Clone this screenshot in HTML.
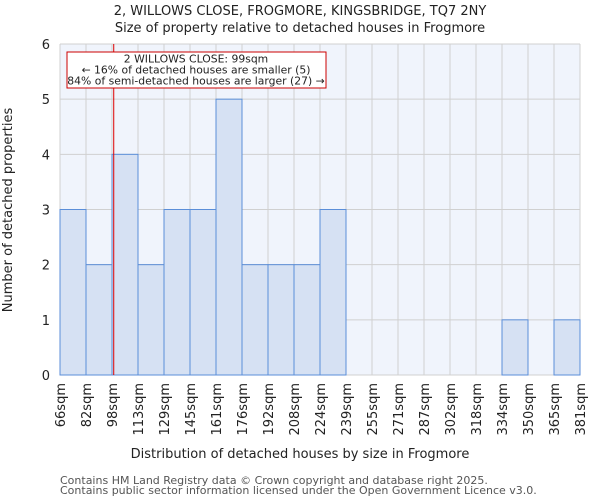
<!DOCTYPE html>
<html><head><meta charset="utf-8"><style>
body{margin:0;background:#fff;}
svg{display:block;font-family:"DejaVu Sans","Liberation Sans",sans-serif;}
</style></head><body>
<svg id="chart" width="600" height="500" viewBox="0 0 600 500">
<text x="300" y="15" font-size="13" text-anchor="middle" fill="#222">2, WILLOWS CLOSE, FROGMORE, KINGSBRIDGE, TQ7 2NY</text>
<text x="300" y="32" font-size="13" text-anchor="middle" fill="#222">Size of property relative to detached houses in Frogmore</text>
<rect x="60" y="44" width="520" height="331" fill="#f0f4fc"/>
<g id="grid"></g><g id="bars"></g><g id="ticks"></g>
<text x="300" y="458" font-size="13" text-anchor="middle" fill="#222">Distribution of detached houses by size in Frogmore</text>
<text transform="translate(12,210) rotate(-90)" font-size="13" text-anchor="middle" fill="#222">Number of detached properties</text>
<text x="60" y="484" font-size="11" fill="#555">Contains HM Land Registry data © Crown copyright and database right 2025.</text>
<text x="60" y="494" font-size="11" fill="#555">Contains public sector information licensed under the Open Government Licence v3.0.</text>
</svg>
<script>
const categories=["66sqm","82sqm","98sqm","113sqm","129sqm","145sqm","161sqm","176sqm","192sqm","208sqm","224sqm","239sqm","255sqm","271sqm","287sqm","302sqm","318sqm","334sqm","350sqm","365sqm","381sqm"];
const counts=[3,2,4,2,3,3,5,2,2,2,3,0,0,0,0,0,0,1,0,1];
const yTicks=[0,1,2,3,4,5,6];
const binEdges=[66,82,98,113,129,145,161,176,192,208,224,239,255,271,287,302,318,334,350,365,381];
const propertySize=99;
const NS="http://www.w3.org/2000/svg";
const L=60,R=580,T=44,B=375;
const nb=counts.length;
const xs=i=>L+(R-L)*i/nb;
const ys=v=>B-(B-T)*v/6;
function xv(v){for(let i=0;i<binEdges.length-1;i++){if(v>=binEdges[i]&&v<=binEdges[i+1])return xs(i+(v-binEdges[i])/(binEdges[i+1]-binEdges[i]));}return L;}
function mk(t,a,p){const e=document.createElementNS(NS,t);for(const k in a)e.setAttribute(k,a[k]);p.appendChild(e);return e;}
const grid=document.getElementById('grid'),bars=document.getElementById('bars'),ticks=document.getElementById('ticks'),svg=document.getElementById('chart');
for(let i=0;i<=nb;i++){const l=mk('line',{x1:xs(i),x2:xs(i),y1:T,y2:B,stroke:'#d0d0d0','stroke-width':1},grid);

}
yTicks.forEach(v=>{const l=mk('line',{x1:L,x2:R,y1:ys(v),y2:ys(v),stroke:'#d0d0d0','stroke-width':1},grid);


const t=mk('text',{x:L-10,y:ys(v)+5,'font-size':13,'text-anchor':'end',fill:'#222'},ticks);t.textContent=v;

});
counts.forEach((c,i)=>{if(c<=0)return;const r=mk('rect',{x:xs(i),y:ys(c),width:xs(i+1)-xs(i),height:ys(0)-ys(c),fill:'#d6e1f3',stroke:'#5b8ed8','stroke-width':1},bars);

});
categories.forEach((c,i)=>{const x=xs(i);const t=mk('text',{transform:`translate(${x+5},383) rotate(-90)`,'font-size':13,'text-anchor':'end',fill:'#222'},ticks);t.textContent=c;

});
const px=xv(propertySize);
const ml=mk('line',{x1:px,x2:px,y1:T,y2:B,stroke:'#dd0000','stroke-width':1},svg);


const box=mk('rect',{x:67,y:52,width:259,height:36,fill:'#fff',stroke:'#cc0000','stroke-width':1},svg);


["2 WILLOWS CLOSE: 99sqm","← 16% of detached houses are smaller (5)","84% of semi-detached houses are larger (27) →"].forEach((s,i)=>{const t=mk('text',{x:196,y:62.5+i*11,'font-size':10.8,'text-anchor':'middle',fill:'#222'},svg);t.textContent=s;

});
</script>
</body></html>
